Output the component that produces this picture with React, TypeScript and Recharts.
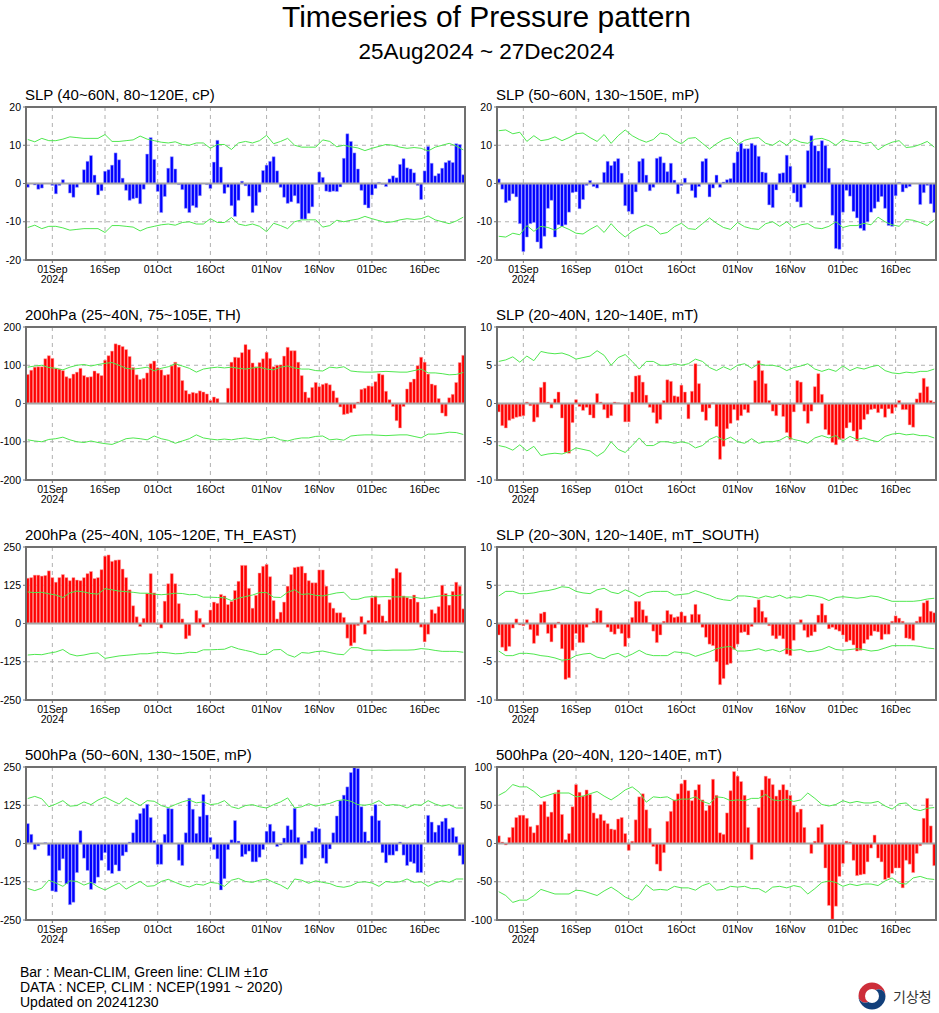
import React from "react";
import {
  ComposedChart,
  Bar,
  Line,
  XAxis,
  YAxis,
  CartesianGrid,
  ReferenceLine,
} from "recharts";

// daily categories 25Aug2024 .. 27Dec2024
const MONTHS = ["Jan", "Feb", "Mar", "Apr", "May", "Jun", "Jul", "Aug", "Sep", "Oct", "Nov", "Dec"];
const DAYS: string[] = Array.from({ length: 125 }, (_, i) => {
  const d = new Date(2024, 7, 25 + i);
  return String(d.getDate()).padStart(2, "0") + MONTHS[d.getMonth()];
});
const TICK_LABELS = ["01Sep", "16Sep", "01Oct", "16Oct", "01Nov", "16Nov", "01Dec", "16Dec"];

// bars: Mean-CLIM (daily)
const CP_SLP = [-1.0, 0, -0.4, -1.5, -1.2, 0, 0, -0.5, -2.7, -0.5, 1.0, 0, -2.5, -3.6, -1.0, 0, 3.6, 5.8, 7.3, 2.2, -3.0, -1.9, 3.2, 3.6, 4.8, 8.0, 6.2, 1.4, -1.8, -4.4, -4.0, -3.8, -5.3, -1.5, 7.7, 12.0, 6.3, -2.1, -7.6, -3.4, 4.0, 7.0, 3.8, -0.3, -1.6, -6.5, -7.6, -5.8, -6.3, -3.2, 0, -0.3, -1.3, 5.6, 11.3, 4.3, -2.6, -1.0, -5.8, -8.6, -4.4, 0.6, -0.6, -3.3, -7.6, -5.8, -2.3, 3.4, 4.8, 5.8, 7.0, 3.3, -1.0, -3.6, -5.2, -4.8, -3.2, -5.2, -9.3, -9.3, -7.8, -6.1, -0.2, 3.0, 1.6, -2.0, -2.2, -2.0, -2.1, -0.9, 6.6, 13.0, 11.0, 8.0, 3.8, -1.8, -5.6, -6.4, -3.0, -1.3, 0.3, -0.2, -0.8, 1.2, 2.0, 1.5, 5.0, 6.5, 4.1, 3.8, 2.8, -0.5, -4.2, 3.3, 9.7, 5.3, 2.0, 2.6, 4.0, 5.5, 6.0, 5.5, 10.4, 10.2, 2.3];
const MP_SLP = [1.2, -1.5, -5.0, -4.5, -2.7, -3.5, -10.5, -17.8, -14.0, -10.5, -10.2, -15.3, -17.0, -13.8, -6.5, -4.4, -14.0, -10.8, -11.2, -10.8, -7.5, -2.4, -2.2, -6.6, -4.2, -0.5, 0.8, -0.8, -1.2, 0, 2.9, 5.8, 4.7, 5.8, 6.5, 2.7, -5.8, -7.3, -8.0, -2.2, 5.8, 6.5, 2.2, -1.9, -1.0, 6.6, 7.0, 5.4, 3.1, 5.3, 0.9, -2.7, -0.5, 1.4, 0, -1.9, -3.7, -0.8, 5.8, 6.5, -3.5, -1.2, 2.2, -1.0, 0.4, 1.0, 1.3, 5.4, 8.3, 10.5, 9.1, 9.1, 10.5, 10.0, 7.1, 3.0, 2.8, -5.6, -6.3, -1.7, 2.6, 2.8, 7.4, 4.5, -2.5, -4.8, -6.2, -1.2, 8.6, 12.5, 9.9, 8.5, 11.2, 9.9, 4.0, -8.3, -17.0, -17.2, -7.5, -1.8, -3.3, -7.3, -9.0, -11.7, -12.3, -10.0, -7.5, -6.5, -4.8, -3.4, -6.5, -11.0, -11.2, -3.2, 0.3, -2.2, -1.2, -0.8, 0, 0, -5.5, -2.4, -0.5, -5.3, -7.6];
const TH_200 = [76, 87, 95, 96, 96, 117, 125, 118, 92, 90, 86, 70, 66, 77, 82, 92, 73, 69, 70, 85, 79, 73, 113, 125, 137, 156, 153, 149, 141, 123, 94, 75, 63, 66, 80, 104, 111, 93, 88, 74, 76, 98, 108, 95, 60, 34, 25, 29, 27, 33, 30, 25, 8, 17, 13, 0, 0, 40, 108, 121, 120, 133, 154, 141, 106, 96, 107, 117, 134, 118, 96, 100, 101, 124, 147, 138, 138, 108, 73, 30, 15, 42, 55, 44, 50, 53, 49, 33, 15, -9, -29, -27, -24, -13, 4, 37, 40, 46, 45, 57, 78, 75, 32, 10, -8, -45, -64, -8, 38, 56, 64, 99, 121, 108, 77, 51, 48, 13, -25, -33, 15, 24, 55, 107, 126];
const MT_SLP = [-1.1, -2.9, -3.2, -2.2, -2.0, -1.8, -1.7, -1.6, 0.2, -0.3, -2.4, -1.8, 2.1, 2.8, 0.2, -0.6, 0.6, 1.5, -1.9, -6.4, -6.5, -2.5, 0.5, -0.4, -0.9, -0.5, -1.5, -1.9, 1.3, 0.2, -0.8, -1.9, -1.6, 0.2, 0.1, 0, -2.4, -2.4, 1.5, 3.6, 3.7, 2.8, 1.1, -0.5, -1.2, -2.6, -2.1, 0.4, 3.1, 2.9, 1.0, 0.9, 2.4, 1.5, -2.0, 1.6, 5.2, 2.6, -1.1, -2.2, -0.6, 0.1, -3.0, -7.3, -5.6, -3.3, -2.6, -0.8, -2.2, -1.6, -0.8, -1.2, 0, 3.0, 5.6, 4.3, 2.6, 0.4, -1.0, -1.6, -0.2, -1.7, -3.8, -4.7, -1.1, 3.0, 2.8, -1.0, -2.6, -1.0, 2.2, 3.9, 1.2, -3.4, -4.1, -5.1, -5.4, -4.7, -4.6, -3.2, -2.5, -3.6, -4.9, -3.4, -2.1, -1.4, -0.8, -0.7, -1.2, -0.7, -1.8, -0.7, -1.3, -0.5, 0.4, -0.8, -0.8, -2.8, -3.1, 0.6, 1.4, 3.3, 2.2, 0.4, 0.2];
const THE_200 = [148, 150, 158, 158, 155, 157, 172, 150, 135, 150, 160, 150, 140, 150, 142, 140, 150, 163, 170, 147, 150, 176, 220, 224, 203, 207, 208, 178, 150, 110, 58, 22, -10, 17, 98, 163, 100, -3, -15, 73, 130, 163, 130, 65, 15, -50, -40, 0, 43, 17, -12, -3, 44, 70, 66, 95, 90, 62, 72, 108, 138, 190, 190, 115, 50, 92, 165, 187, 193, 153, 75, 15, 37, 70, 122, 160, 183, 185, 187, 165, 140, 133, 133, 175, 175, 122, 68, 50, 35, 35, 20, -48, -73, -63, -7, 23, -35, 10, 84, 90, 63, 25, 8, 78, 148, 180, 167, 90, 85, 80, 93, 70, -12, -60, -35, 45, 33, 55, 125, 98, 60, 105, 135, 122, 48];
const MTS_SLP = [-1.5, -3.1, -3.6, -3.0, -0.6, 0.6, -0.2, -0.3, 0.5, -0.8, -2.6, -1.6, 1.3, 1.5, -1.3, -2.4, -0.6, 0.2, -3.3, -7.3, -7.1, -3.5, -1.3, -2.5, -2.5, -0.5, 0, 0.3, 2.0, 1.7, 0, -0.5, -1.1, -1.4, -0.7, -1.3, -3.0, -1.9, 0.8, 2.9, 2.9, 1.8, 1.0, 0.1, -1.0, -2.5, -1.5, 0.3, 1.7, 1.2, 0.8, 0.9, 1.5, 1.0, 0, 1.2, 2.5, 1.2, -0.5, -1.8, -2.7, -2.9, -5.0, -8.0, -7.2, -5.4, -5.2, -3.4, -2.7, -1.2, -1.1, -1.5, -0.4, 2.1, 3.1, 1.6, 0.8, -0.3, -1.6, -2.0, -1.6, -2.0, -4.0, -4.2, -2.2, 0.1, 0.5, -0.9, -1.8, -1.6, -1.1, 1.1, 2.6, 1.1, -0.7, -0.5, -0.8, -1.0, -1.5, -2.4, -2.2, -2.8, -3.6, -3.5, -2.6, -2.1, -1.6, -1.0, -1.1, -2.1, -1.4, -1.4, 0.3, 1.0, 0.7, 0.3, -1.9, -2.0, -2.2, 0.3, 0.9, 2.7, 3.0, 1.6, 1.4];
const MP_500 = [65, 30, -20, -8, 0, 3, -40, -155, -158, -88, -50, -132, -200, -192, -95, 42, -48, -88, -150, -130, -110, -55, -30, -88, -98, -70, -90, -40, -28, 5, 35, 78, 98, 115, 128, 85, 10, -68, -68, 30, 115, 113, 0, -55, -72, 35, 148, 112, 33, 88, 160, 93, 20, -20, -50, -152, -115, -20, 12, 75, 8, -43, -35, -25, -60, -60, -45, -20, 40, 63, 40, -10, -5, 18, 58, 45, 115, 20, -68, -48, 8, 40, 52, 48, -48, -65, -18, 35, 90, 140, 158, 185, 232, 248, 245, 120, 38, 8, 90, 127, 75, -30, -63, -38, -38, -25, 5, -38, -72, -60, -65, -95, -95, 0, 92, 70, 37, 60, 72, 83, 48, 52, 23, -40, -68];
const MT_500 = [10, 2, -2, 8, 21, 34, 37, 37, 33, 22, 14, 24, 51, 55, 35, 41, 65, 70, 38, 5, 13, 48, 77, 67, 62, 70, 64, 40, 33, 38, 30, 26, 19, 18, 32, 34, 13, -9, 3, 31, 61, 65, 44, 20, -4, -27, -36, -12, 29, 42, 57, 65, 78, 83, 69, 56, 70, 77, 57, 43, 50, 84, 63, 14, 12, 40, 69, 94, 88, 81, 63, 21, -21, 0, 47, 70, 88, 85, 77, 62, 70, 77, 70, 63, 50, 41, 45, 21, 0, -13, 3, 21, 25, -32, -81, -99, -82, -43, -26, 3, 2, -22, -42, -41, -40, -24, -6, 11, -19, -24, -47, -45, -39, -32, -32, -58, -22, -27, -38, -13, -3, 33, 59, 23, -29];

// green lines: CLIM +-1 sigma, read every second day
const CP_SLP_SD = [11.5, 10.9, 11.8, 11.2, 11.2, 11.6, 12.2, 12.0, 11.8, 11.8, 11.8, 12.8, 11.0, 11.0, 11.2, 11.4, 12.4, 11.6, 11.2, 10.8, 10.6, 10.9, 10.2, 10.0, 10.6, 10.6, 9.2, 10.2, 10.2, 8.9, 10.6, 11.0, 10.6, 11.2, 12.6, 10.4, 11.0, 11.8, 10.0, 9.5, 9.5, 9.5, 11.4, 11.0, 9.6, 10.0, 9.6, 9.3, 8.6, 9.2, 9.7, 10.2, 10.0, 9.5, 9.2, 9.4, 9.2, 8.5, 9.5, 10.0, 10.5, 9.8, 8.8];
const MP_SLP_SD = [13.8, 14.0, 13.0, 13.4, 11.0, 12.5, 11.2, 11.5, 12.2, 11.2, 12.0, 13.0, 13.2, 12.0, 11.0, 12.8, 10.5, 12.5, 14.0, 12.5, 11.5, 10.8, 11.5, 13.2, 12.8, 11.3, 10.4, 11.8, 12.0, 10.5, 9.0, 10.4, 11.5, 12.0, 10.2, 11.3, 11.8, 12.0, 10.5, 10.0, 11.2, 10.0, 11.6, 10.8, 10.5, 11.6, 11.8, 11.2, 10.0, 11.5, 11.0, 11.0, 10.4, 10.8, 8.8, 10.0, 10.8, 11.2, 9.4, 9.6, 10.2, 11.0, 9.5];
const TH_200_SD = [95, 98, 100, 94, 92, 88, 95, 100, 102, 98, 102, 105, 107, 100, 92, 90, 92, 95, 85, 92, 96, 104, 98, 92, 82, 90, 93, 95, 93, 95, 92, 90, 93, 95, 90, 88, 95, 98, 93, 90, 90, 86, 85, 95, 93, 96, 85, 83, 82, 82, 83, 84, 83, 82, 82, 86, 90, 80, 80, 78, 75, 76, 81];
const MT_SLP_SD = [5.5, 5.7, 6.1, 5.4, 6.2, 5.6, 6.8, 6.6, 6.5, 6.6, 6.3, 5.8, 6.0, 6.2, 6.9, 6.3, 5.0, 6.0, 6.4, 5.5, 4.5, 5.5, 5.5, 5.0, 5.0, 5.2, 5.0, 5.2, 5.8, 5.5, 4.7, 4.3, 4.8, 4.4, 5.0, 5.2, 4.6, 5.2, 5.0, 5.0, 4.8, 4.3, 4.7, 4.9, 5.2, 4.5, 4.2, 4.5, 4.2, 4.9, 4.3, 4.7, 4.5, 4.8, 5.0, 4.3, 4.0, 3.9, 4.1, 4.0, 4.2, 4.2, 4.5];
const THE_200_SD = [103, 101, 102, 97, 93, 85, 100, 106, 103, 98, 96, 114, 110, 106, 104, 102, 99, 99, 96, 94, 96, 99, 98, 94, 95, 86, 86, 85, 84, 75, 83, 88, 93, 101, 101, 86, 85, 102, 110, 95, 97, 92, 90, 95, 100, 102, 79, 79, 86, 88, 87, 88, 87, 87, 87, 86, 82, 84, 88, 91, 91, 91, 94];
const MTS_SLP_SD = [3.6, 4.2, 4.2, 3.9, 3.9, 4.0, 4.2, 4.3, 4.5, 4.8, 4.7, 4.2, 4.0, 3.9, 4.4, 4.6, 4.1, 3.9, 4.4, 4.0, 3.5, 4.0, 4.2, 4.2, 4.2, 3.7, 3.8, 3.9, 4.3, 4.0, 3.7, 3.3, 3.1, 3.0, 3.6, 3.6, 3.5, 3.3, 3.6, 3.4, 3.7, 3.3, 3.5, 3.4, 3.7, 3.6, 3.4, 3.0, 3.4, 3.5, 3.4, 3.3, 3.4, 3.6, 3.5, 3.2, 2.9, 2.9, 2.9, 2.9, 3.0, 3.2, 3.3];
const MP_500_SD = [147, 154, 146, 120, 129, 140, 122, 124, 136, 127, 142, 152, 140, 129, 149, 136, 124, 140, 138, 124, 117, 127, 136, 142, 133, 136, 127, 130, 140, 120, 114, 124, 127, 120, 116, 127, 136, 149, 116, 120, 130, 122, 127, 131, 140, 143, 138, 127, 125, 129, 140, 124, 127, 125, 116, 127, 125, 140, 129, 122, 127, 116, 116];
const MT_500_SD = [63, 68, 77, 74, 74, 68, 60, 63, 66, 66, 66, 61, 62, 65, 68, 62, 57, 63, 70, 74, 67, 54, 61, 60, 61, 56, 58, 58, 61, 55, 52, 61, 60, 56, 57, 56, 59, 59, 64, 57, 56, 58, 55, 57, 66, 59, 51, 49, 51, 56, 53, 55, 53, 53, 55, 49, 45, 52, 53, 45, 43, 46, 47];

const BLUE = "#0000ff";
const RED = "#ff0000";
const FONT = "'Liberation Sans', Arial, Helvetica, sans-serif";

const PANELS = [
  { title: "SLP (40~60N, 80~120E, cP)", bars: CP_SLP, sd: CP_SLP_SD, color: BLUE, max: 20, row: 0, col: 0 },
  { title: "SLP (50~60N, 130~150E, mP)", bars: MP_SLP, sd: MP_SLP_SD, color: BLUE, max: 20, row: 0, col: 1 },
  { title: "200hPa (25~40N, 75~105E, TH)", bars: TH_200, sd: TH_200_SD, color: RED, max: 200, row: 1, col: 0 },
  { title: "SLP (20~40N, 120~140E, mT)", bars: MT_SLP, sd: MT_SLP_SD, color: RED, max: 10, row: 1, col: 1 },
  { title: "200hPa (25~40N, 105~120E, TH_EAST)", bars: THE_200, sd: THE_200_SD, color: RED, max: 250, row: 2, col: 0 },
  { title: "SLP (20~30N, 120~140E, mT_SOUTH)", bars: MTS_SLP, sd: MTS_SLP_SD, color: RED, max: 10, row: 2, col: 1 },
  { title: "500hPa (50~60N, 130~150E, mP)", bars: MP_500, sd: MP_500_SD, color: BLUE, max: 250, row: 3, col: 0 },
  { title: "500hPa (20~40N, 120~140E, mT)", bars: MT_500, sd: MT_500_SD, color: RED, max: 100, row: 3, col: 1 },
];

const PLOT_W = 439;
const PLOT_H = 153;
const Y_W = 26;

const DateTick = (props: any) => {
  const { x, y, payload } = props;
  return (
    <g>
      <text x={x} y={y + 8} textAnchor="middle" fontSize={10.5} fontFamily={FONT} fill="#000">
        {payload.value}
      </text>
      {payload.value === "01Sep" && (
        <text x={x} y={y + 18} textAnchor="middle" fontSize={10.5} fontFamily={FONT} fill="#000">
          2024
        </text>
      )}
    </g>
  );
};

const Panel = ({ p }: { p: any }) => {
  const left = p.col === 0 ? 0 : 471;
  const plotTop = 106.7 + p.row * 220;
  const data = DAYS.map((day, i) => ({
    day,
    v: p.bars[i],
    up: i % 2 === 0 ? p.sd[i / 2] : null,
    lo: i % 2 === 0 ? -p.sd[i / 2] : null,
  }));
  const m = p.max;
  const ticks = [-m, -m / 2, 0, m / 2, m];
  const edge = p.color === BLUE ? "#a8a8ff" : "#ffa8a8";
  return (
    <>
      <div
        style={{
          position: "absolute",
          left: left + 25,
          top: plotTop - 19.4,
          fontFamily: FONT,
          fontSize: 15,
          lineHeight: "15px",
          whiteSpace: "nowrap",
          color: "#000",
        }}
      >
        {p.title}
      </div>
      <div style={{ position: "absolute", left, top: plotTop - 10 }}>
        <ComposedChart
          width={Y_W + PLOT_W + 4}
          height={10 + PLOT_H + 30}
          data={data}
          margin={{ top: 10, right: 4, bottom: 0, left: 0 }}
          barCategoryGap="8%"
        >
          <CartesianGrid stroke="#b0b0b0" strokeDasharray="4 4" />
          <XAxis
            dataKey="day"
            ticks={TICK_LABELS}
            interval={0}
            height={30}
            tickSize={3}
            axisLine={false}
            tickLine={{ stroke: "#707070" }}
            tick={(t: any) => <DateTick {...t} />}
          />
          <YAxis
            domain={[-m, m]}
            ticks={ticks}
            interval={0}
            width={Y_W}
            tickSize={3}
            tickMargin={2}
            axisLine={false}
            tickLine={{ stroke: "#707070" }}
            tick={{ fontSize: 10.5, fill: "#000", fontFamily: FONT }}
          />
          <Bar dataKey="v" fill={p.color} stroke={edge} strokeWidth={0.5} isAnimationActive={false} />
          <ReferenceLine y={0} stroke="#a8a8a8" strokeWidth={2} />
          <Line dataKey="up" stroke="#4fe84f" strokeWidth={1} dot={false} activeDot={false} connectNulls isAnimationActive={false} />
          <Line dataKey="lo" stroke="#4fe84f" strokeWidth={1} dot={false} activeDot={false} connectNulls isAnimationActive={false} />
        </ComposedChart>
      </div>
      <div
        style={{
          position: "absolute",
          left: left + Y_W - 1,
          top: plotTop - 1,
          width: PLOT_W + 2,
          height: PLOT_H + 2,
          border: "2px solid #707070",
          boxSizing: "border-box",
          pointerEvents: "none",
        }}
      />
    </>
  );
};

export default function App() {
  return (
    <div style={{ position: "absolute", left: 0, top: 0, width: 939, height: 1013, background: "#fff", overflow: "hidden" }}>
      <div style={{ position: "absolute", left: 17, top: 1, width: 939, textAlign: "center", fontFamily: FONT, fontSize: 30, lineHeight: "32px" }}>
        Timeseries of Pressure pattern
      </div>
      <div style={{ position: "absolute", left: 17, top: 41, width: 939, textAlign: "center", fontFamily: FONT, fontSize: 22.5, lineHeight: "22.5px" }}>
        25Aug2024 ~ 27Dec2024
      </div>
      {PANELS.map((p) => (
        <Panel key={p.title} p={p} />
      ))}
      <div
        style={{
          position: "absolute",
          left: 20,
          top: 965,
          fontFamily: FONT,
          fontSize: 14,
          lineHeight: "15px",
          color: "#000",
          whiteSpace: "nowrap",
        }}
      >
        <div>Bar : Mean-CLIM, Green line: CLIM ±1σ</div>
        <div>DATA : NCEP, CLIM : NCEP(1991 ~ 2020)</div>
        <div>Updated on 20241230</div>
      </div>
      <svg style={{ position: "absolute", left: 856, top: 980 }} width={32} height={32} viewBox="-16 -16 32 32">
        <path d="M -13.5 0 A 13.5 13.5 0 0 1 13.5 0 A 6.75 6.75 0 0 0 0 0 A 6.75 6.75 0 0 1 -13.5 0 Z" fill="#cd2e3a" />
        <path d="M -13.5 0 A 6.75 6.75 0 0 0 0 0 A 6.75 6.75 0 0 1 13.5 0 A 13.5 13.5 0 0 1 -13.5 0 Z" fill="#123f7a" />
        <circle cx={0} cy={0} r={7} fill="#fff" />
      </svg>
      <div style={{ position: "absolute", left: 893, top: 988, fontFamily: "'Noto Sans CJK KR', sans-serif", fontSize: 14, lineHeight: "16px", color: "#333" }}>
        기상청
      </div>
    </div>
  );
}
